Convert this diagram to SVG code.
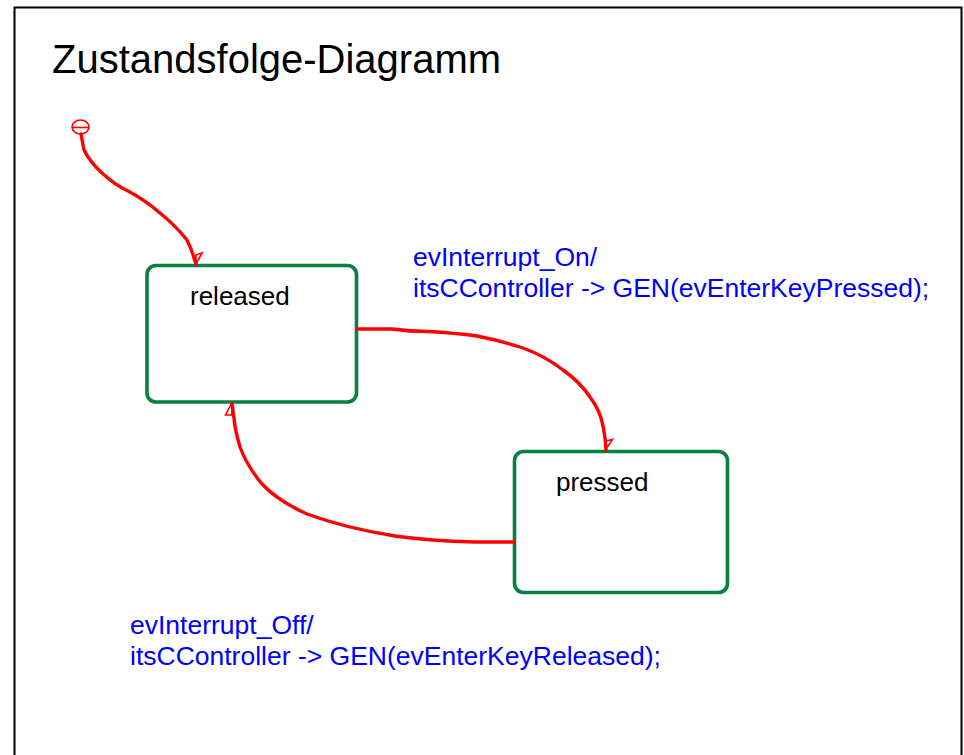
<svg xmlns="http://www.w3.org/2000/svg" width="964" height="755" viewBox="0 0 964 755">
<style>
.frame{fill:#fff;stroke:#000;stroke-width:2}
.state{fill:#fff;stroke:#0a7f42;stroke-width:3.6}
.name{font-family:"Liberation Sans",Arial,sans-serif;font-size:26px;fill:#000}
.title{font-family:"Liberation Sans",Arial,sans-serif;font-size:40px;fill:#000}
.lbl{font-family:"Liberation Sans",Arial,sans-serif;font-size:26.5px;fill:#0000ff}
.tr{fill:none;stroke:#ff0000;stroke-width:3.4;stroke-linejoin:round;stroke-linecap:round}
.ah{fill:none;stroke:#ff0000;stroke-width:1.6;stroke-linejoin:miter}
</style>
<rect x="0" y="0" width="964" height="755" fill="#fff"/>
<rect class="frame" x="14.5" y="7.5" width="947" height="760"/>
<text class="title" x="52" y="73">Zustandsfolge-Diagramm</text>

<g id="initial">
<ellipse cx="80.5" cy="127" rx="8.5" ry="7" fill="none" stroke="#ff0000" stroke-width="1.6"/>
<line x1="72" y1="127.5" x2="89" y2="127.5" stroke="#ff0000" stroke-width="1.6"/>
</g>

<g id="released">
<rect class="state" x="147" y="265.5" width="209.5" height="136.5" rx="9" ry="9"/>
<text class="name" x="190" y="305">released</text>
</g>

<g id="pressed">
<rect class="state" x="514.5" y="451.5" width="213" height="141" rx="9" ry="9"/>
<text class="name" x="556" y="491">pressed</text>
</g>

<g id="connectors">
<path class="tr" d="M81,134 L84,150 Q90,162 102,173 Q115,185 128,191 Q145,200 160,213 Q176,226 187,240 Q192,250 194,258 L196,264"/>
<polygon class="ah" points="196,264 196,255 202,253"/>

<path class="tr" d="M357,329 L392,329 Q410,331.5 428,331.5 Q455,333 477,336 Q502,341 523,348 Q545,356 563,370 Q580,382 590,397 Q598,408 601,418 Q604,428 605,438 L606,450"/>
<polygon class="ah" points="606,449 606,441 612.5,439.5"/>

<path class="tr" d="M514,542 L475,542 Q430,541 395,536 Q345,528 307,514 Q278,501 262,484 Q247,466 240,447 Q235,430 234,418 L232,404"/>
<polygon class="ah" points="231.5,403.5 225.5,415 232,415"/>
</g>

<g id="labels">
<text class="lbl" x="413" y="266">evInterrupt_On/</text>
<text class="lbl" x="413" y="297">itsCController -&gt; GEN(evEnterKeyPressed);</text>
<text class="lbl" x="130" y="634">evInterrupt_Off/</text>
<text class="lbl" x="130" y="665">itsCController -&gt; GEN(evEnterKeyReleased);</text>
</g>
</svg>
